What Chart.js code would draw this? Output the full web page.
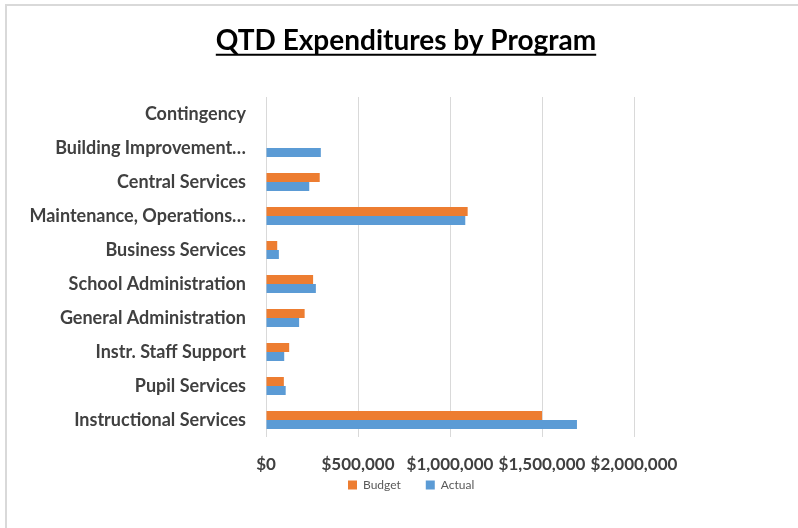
<!DOCTYPE html>
<html><head><meta charset="utf-8">
<script src="https://cdn.jsdelivr.net/npm/chart.js@4"></script>
<style>
html,body{margin:0;padding:0;background:#fff;overflow:hidden;}
#wrap{position:absolute;left:5px;top:4px;width:798px;height:522px;border-left:2px solid #D9D9D9;border-top:2px solid #D9D9D9;}
canvas{display:block;}
</style></head><body>
<div id="wrap"><canvas id="c" width="798" height="522"></canvas></div>
<script>
const categories = [
  'Contingency',
  'Building Improvement…',
  'Central Services',
  'Maintenance, Operations…',
  'Business Services',
  'School Administration',
  'General Administration',
  'Instr. Staff Support',
  'Pupil Services',
  'Instructional Services'
];
const budget = [0, 0, 292000, 1096000, 61000, 256000, 210000, 126000, 97000, 1500000];
const actual = [0, 298000, 235000, 1083000, 70000, 271000, 180000, 99000, 107000, 1690000];
const xTickLabels = ['$0', '$500,000', '$1,000,000', '$1,500,000', '$2,000,000'];
const titleText = 'QTD Expenditures by Program';

const FONT = 'Lato, "Open Sans", sans-serif';

const underlineTitle = {
  id: 'underlineTitle',
  afterDraw(chart) {
    const t = chart.titleBlock;
    if (!t) return;
    const ctx = chart.ctx;
    const f = Chart.helpers.toFont(t.options.font);
    const pad = Chart.helpers.toPadding(t.options.padding);
    ctx.save();
    ctx.font = f.string;
    const w = ctx.measureText(t.options.text).width;
    const cx = (t.left + t.right) / 2;
    const cy = t.top + pad.top + f.lineHeight / 2;
    ctx.strokeStyle = '#000';
    ctx.lineWidth = 2;
    ctx.beginPath();
    ctx.moveTo(cx - w / 2, cy + 14);
    ctx.lineTo(cx + w / 2, cy + 14);
    ctx.stroke();
    ctx.restore();
  }
};

const placeBoxes = {
  id: 'placeBoxes',
  afterLayout(chart) {
    const t = chart.titleBlock;
    if (t) {
      const dx = 399 - (t.left + t.right) / 2;
      t.left += dx; t.right += dx;
    }
    const lg = chart.legend;
    if (lg) {
      const w = lg.right - lg.left, h = lg.bottom - lg.top;
      lg.left = 316; lg.right = 316 + w;
      lg.top = 448; lg.bottom = 448 + h;
    }
  }
};

new Chart(document.getElementById('c'), {
  type: 'bar',
  data: {
    labels: categories,
    datasets: [
      { label: 'Budget', data: budget, backgroundColor: '#ED7D31', borderWidth: 0 },
      { label: 'Actual', data: actual, backgroundColor: '#5B9BD5', borderWidth: 0 }
    ]
  },
  plugins: [underlineTitle, placeBoxes],
  options: {
    responsive: false,
    animation: false,
    indexAxis: 'y',
    layout: { padding: { left: 0, right: 171, top: 0, bottom: 9 } },
    datasets: { bar: { categoryPercentage: 0.53, barPercentage: 1.0 } },
    plugins: {
      title: {
        display: true, text: titleText, color: '#000',
        font: { family: FONT, size: 28, weight: 'bold' },
        padding: { top: 18, bottom: 39.4 }
      },
      legend: {
        position: 'bottom', align: 'start',
        labels: { boxWidth: 9, boxHeight: 9, padding: 25, color: '#595959',
          font: { family: FONT, size: 12 } }
      },
      tooltip: { enabled: false }
    },
    scales: {
      x: {
        min: 0, max: 2000000,
        ticks: {
          stepSize: 500000, padding: 17, color: '#404040', autoSkip: false, maxRotation: 0, minRotation: 0,
          font: { family: FONT, size: 17, weight: 'bold' },
          callback: (v, i) => xTickLabels[i]
        },
        grid: { color: '#D9D9D9', drawTicks: false, lineWidth: 1 },
        border: { display: false },
        afterFit: (s) => { s.height = 35; }
      },
      y: {
        ticks: { padding: 20, color: '#404040', autoSkip: false,
          font: { family: FONT, size: 18, weight: 'bold' } },
        grid: { display: false, drawTicks: false },
        border: { display: false },
        afterFit: (s) => { s.width = 259; }
      }
    }
  }
});
</script>
</body></html>
